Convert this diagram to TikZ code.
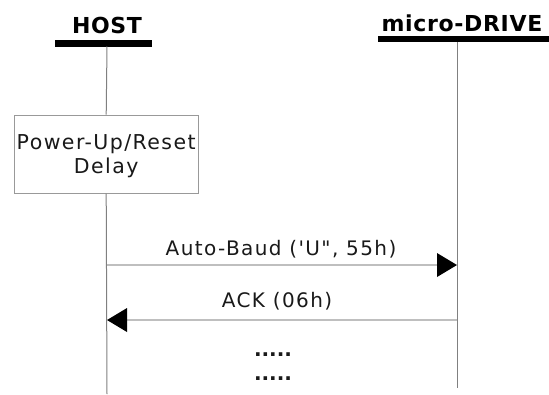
\documentclass[tikz,border=0pt]{standalone}
\usepackage{fontspec}
\setmainfont{DejaVu Sans}[LetterSpace=7,Ligatures=TeXOff]
\newfontfamily\titlefont{DejaVu Sans}[LetterSpace=3]
\newfontfamily\dotsfont{DejaVu Sans}
\usetikzlibrary{arrows.meta}

\tikzset{
  lifeline/.style={draw=black!50, line width=1pt},
  message/.style={draw=black!25, line width=1.6pt,
    -{Triangle[length=20pt,width=24pt,color=black,line width=0pt]}},
  titletext/.style={anchor=base, inner sep=0pt, font=\titlefont\bfseries\fontsize{22}{26}\selectfont},
  msgtext/.style={anchor=base, inner sep=0pt, text=black!90, font=\fontsize{20}{24}\selectfont},
  delaybox/.style={draw=black!40, line width=1pt, fill=white, minimum width=184pt,
    minimum height=78pt, align=center, inner sep=0pt, text=black!90,
    font=\fontsize{20.5}{24}\selectfont},
}

\begin{document}
\begin{tikzpicture}[x=1pt,y=1pt,yscale=-1,xscale=1]
  \useasboundingbox (0,0) rectangle (549,394);

  % Titles
  \node[titletext] (host) at (107,33) {HOST};
  \node[titletext] (drive) at (462,31) {micro-DRIVE};
  %Shape: Bars
  \fill (55,40) rectangle (152,46.5);
  \fill (378,36) rectangle (549,42);

  % Lifeline points
  \coordinate (hosttop) at (107,46.5);
  \coordinate (hostend) at (107,394);
  \coordinate (drivetop) at (457,42);
  \coordinate (driveend) at (457,388);

  % Delay box
  \node[delaybox] (delay) at (106.2,154.2) {\rule{0pt}{18pt}Power-Up/Reset\\Delay};

  %Straight Lines
  \draw[lifeline] (hosttop) -- (delay.north);
  \draw[lifeline] (delay.south) -- (hostend);
  \draw[lifeline] (drivetop) -- (driveend);

  % Messages
  \coordinate (baudhost) at (107,265);
  \coordinate (bauddrive) at (457,265);
  \coordinate (ackhost) at (107,320);
  \coordinate (ackdrive) at (457,320);
  \draw[message] (baudhost) -- (bauddrive);
  \draw[message] (ackdrive) -- (ackhost);

  % Text Node
  \node[msgtext] (baudlabel) at (281,255) {Auto-Baud (\symbol{39}U\symbol{34}, 55h)};
  % Text Node
  \node[msgtext] (acklabel) at (277,307.5) {ACK (06h)};
  % Text Node
  \node[msgtext, font=\dotsfont\bfseries\fontsize{20}{24}\selectfont] (dotsa) at (273,356) {.....};
  % Text Node
  \node[msgtext, font=\dotsfont\bfseries\fontsize{20}{24}\selectfont] (dotsb) at (273,380) {.....};
\end{tikzpicture}
\end{document}
